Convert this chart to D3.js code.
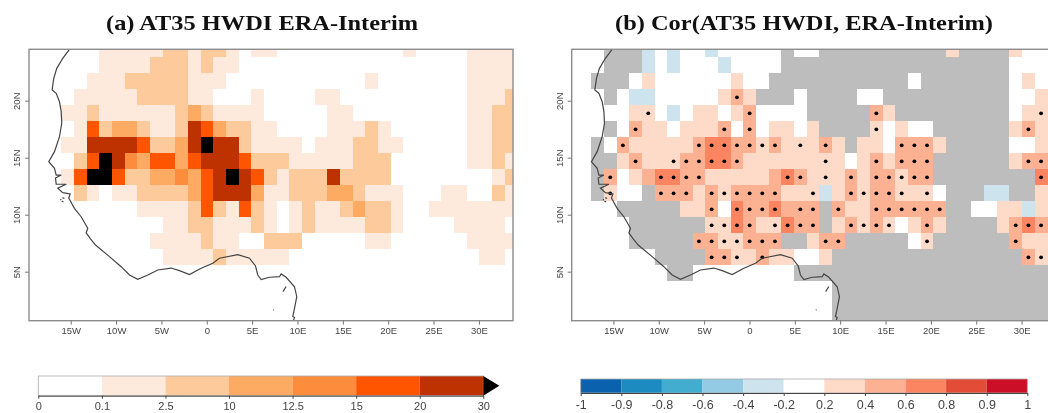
<!DOCTYPE html>
<html>
<head>
<meta charset="utf-8">
<title>AT35 HWDI</title>
<script src="https://cdn.jsdelivr.net/npm/d3@7"></script>
<style>
    html, body { margin: 0; padding: 0; background: white; overflow: hidden; }
    svg { display: block; filter: blur(0.45px); }
</style>
</head>
<body>
<div id="chart"></div>
<script>
// Tick labels of the two maps
const lonTicks = [-15, -10, -5, 0, 5, 10, 15, 20, 25, 30];
const latTicks = [5, 10, 15, 20];

// Panel (a): one digit per grid cell, index into hwdiValues
const hwdiValues = [0, 1, 5, 11, 14, 18, 25, 35];
const hwdiRows = [
    "000000111112212210110000000000100001111",
    "000000111122212110000000000000000001111",
    "000001112222211100000000000100000001111",
    "000011111222211000100001100000000001112",
    "000112111111232111100000110000000001122",
    "000015233211265322110000111210000001122",
    "000116666522367662111101112211000001122",
    "000025764355356665222111112220000001121",
    "000157752233435676521222622220000000012",
    "000021011222235666311222332111000110021",
    "000000000111125215210121123221001111111",
    "000000000001122111210121111221000011110",
    "000000000011112110022200000110000001111",
    "000000000001111211111000000000000000110"
];

// Panel (b): g = no data, w = near zero, b = weak negative, 1/2/3 = positive classes
const corValues = { w: 0, b: -0.3, 1: 0.3, 2: 0.5, 3: 0.7 };
const corRows = [
    "wwwgggbwbwwbwwwwwgwwgggggggggg1gggg1www",
    "wwwgggbwbwwwbwwwwggggggggggggggggggwwww",
    "wwgggw1wwwwww1wwgggggggggggwgggggggw1ww",
    "wwwgwbbwwwww121gggwggggwwggggggggggww11",
    "wwwww11wbw11w12wwwwggggg21gggggggggw111",
    "wwwgw211w1112w2w11w1gggg1w1wwgggggg1211",
    "wwgw211111233221211121g11w2221gggggww11",
    "wwgg121112233211111111w121222gggggg1222",
    "wwg2w123322111112321112122122gggggggg33",
    "wwg1wwg2221212222111b12122111wgggbbgg11",
    "wwwwggggg112w3223222g211222222ggww11b11",
    "wwwwwgggggg113211322g12121w121gggg12322",
    "wwwwwggggg2211222gg122gggggw1gggggg2111",
    "wwwwwwwgggg2211211ww1ggggggggggggggg211",
    "wwwwwwwwggwwwwwwwwggggggggggggggggggggg",
    "wwwwwwwwwwwwwwwwwwwwwgggggggggggggggggg",
    "wwwwwwwwwwwwwwwwwwwwwgggggggggggggggggg",
    "wwwwwwwwwwwwwwwwwwwwwgggggggggggggggggg"
];

// Columns of the significant cells, per row
const sigCols = [
    [], [], [],
    [13],
    [6, 14, 24, 37],
    [5, 12, 14, 24, 36],
    [4, 10, 11, 12, 13, 14, 15, 16, 18, 20, 26, 27, 28],
    [5, 8, 9, 10, 11, 12, 13, 20, 24, 26, 27, 28, 36, 37],
    [3, 7, 8, 9, 10, 17, 18, 20, 22, 24, 25, 26, 27, 28, 37],
    [3, 7, 8, 9, 11, 12, 13, 14, 15, 16, 19, 22, 23, 24, 25, 26, 28],
    [11, 13, 14, 15, 16, 18, 19, 21, 24, 25, 26, 27, 28, 29],
    [11, 12, 13, 14, 16, 17, 18, 19, 22, 23, 24, 25, 28, 35, 36, 37],
    [10, 11, 12, 13, 14, 15, 16, 20, 21, 28, 35],
    [11, 12, 13, 15, 36, 37]
];

// Coastline as [lon, lat]
const coastLine = [
    [-15.14, 24.51], [-15.88, 23.72], [-16.54, 22.84], [-16.87, 21.96], [-17.05, 20.94], [-16.6, 20.65],
    [-16.24, 19.91], [-16.05, 19.04], [-15.99, 18.02], [-16.24, 16.84], [-16.79, 15.53], [-17.42, 14.65],
    [-16.79, 14.07], [-16.6, 13.48], [-16.05, 13.48], [-16.68, 13.22], [-16.6, 12.67], [-15.5, 12.67],
    [-16.43, 12.32], [-15.88, 11.93], [-15.06, 11.82], [-15.22, 11.47], [-14.59, 10.56], [-13.85, 9.82],
    [-13.12, 8.81], [-13.3, 8.4], [-12.86, 7.93], [-12.27, 7.34], [-10.73, 6.32], [-9.44, 5.44],
    [-8.52, 4.71], [-7.61, 4.33], [-6.5, 4.71], [-5.4, 5.15], [-3.93, 5.32], [-3.01, 5.09],
    [-1.91, 4.74], [-0.62, 5.3], [0.66, 5.74], [1.4, 6.18], [3.42, 6.49], [4.71, 6.18],
    [5.37, 5.5], [5.62, 4.71], [6, 4.3], [6.91, 4.51], [8.02, 4.56], [8.2, 4.8],
    [8.75, 4.51], [9.67, 3.68], [9.92, 2.81], [9.67, 1.79], [9.48, 1.05], [9.67, 1], [9.56, 0.7]
];
const islands = [
    [[8.4, 3.25], [8.75, 3.7]],
    [[7.35, 1.62], [7.38, 1.68]],
    [[-16.0, 11.2], [-15.8, 11.12]],
    [[-15.9, 11.5], [-15.7, 11.42]],
    [[-16.15, 11.35], [-16.05, 11.3]]
];

// Colour bars
const hwdiLabels = ["0", "0.1", "2.5", "10", "12.5", "15", "20", "30"];
const hwdiBreaks = [0.1, 2.5, 10, 12.5, 15, 20, 30];
const hwdiColors = ["#ffffff", "#feeadc", "#fdcb9b", "#fdaa63", "#fd8d3c", "#ff5500", "#bd3200", "#000000"];
const corLabels = ["-1", "-0.9", "-0.8", "-0.6", "-0.4", "-0.2", "0.2", "0.4", "0.6", "0.8", "0.9", "1"];
const corBreaks = [-0.9, -0.8, -0.6, -0.4, -0.2, 0.2, 0.4, 0.6, 0.8, 0.9];
const corColors = ["#0a62ae", "#1b8bc0", "#42adcf", "#92cbe3", "#cde4ef", "#ffffff", "#fedbc9", "#fdb193", "#fb8461", "#e34c37", "#ca0f26"];

const width = 1048;
const height = 413;
const lonDomain = [-19.6, 33.76];
const latDomain = [0.7, 24.51];
const lonStart = -20.24;
const lonStep = 1.397;
const latStart = 25.21;
const latStep = 1.404;
const greyLand = "#bdbdbd";
const textColor = "#444";

const svg = d3.select('#chart').append('svg')
    .attr('width', width)
    .attr('height', height);

const hwdiColor = d3.scaleThreshold().domain(hwdiBreaks).range(hwdiColors);
const corColor = d3.scaleThreshold().domain(corBreaks).range(corColors);

function lonLabel(d) {
    return d === 0 ? "0" : Math.abs(d) + (d < 0 ? "W" : "E");
}

// Draws one map panel; rows are turned into cells by the cellFill callback
function drawMap(id, left, rows, cellFill, dots) {
    const x = d3.scaleLinear().domain(lonDomain).range([left, left + 484]);
    const y = d3.scaleLinear().domain(latDomain).range([320.7, 49.3]);

    svg.append('clipPath').attr('id', id)
        .append('rect')
        .attr('x', left).attr('y', 49.3)
        .attr('width', 484).attr('height', 271.4);

    const g = svg.append('g').attr('clip-path', 'url(#' + id + ')');

    const cells = [];
    rows.forEach((row, r) => {
        row.split('').forEach((c, i) => cells.push({ r: r, i: i, c: c }));
    });

    g.selectAll('rect.cell')
        .data(cells)
        .enter().append('rect')
        .attr('class', 'cell')
        .attr('x', d => x(lonStart + d.i * lonStep))
        .attr('y', d => y(latStart - d.r * latStep))
        .attr('width', d => x(lonStart + (d.i + 1) * lonStep) - x(lonStart + d.i * lonStep))
        .attr('height', d => y(latStart - (d.r + 1) * latStep) - y(latStart - d.r * latStep))
        .attr('fill', d => cellFill(d.c))
        .attr('shape-rendering', 'crispEdges');

    // Significance dots
    const dotData = [];
    dots.forEach((cols, r) => cols.forEach(i => dotData.push({ r: r, i: i })));
    g.selectAll('circle')
        .data(dotData)
        .enter().append('circle')
        .attr('cx', d => x(lonStart + (d.i + 0.5) * lonStep))
        .attr('cy', d => y(latStart - (d.r + 0.5) * latStep))
        .attr('r', 1.9)
        .attr('fill', 'black');

    // Coast
    const line = d3.line().x(d => x(d[0])).y(d => y(d[1]));
    [coastLine].concat(islands).forEach(part => {
        g.append('path')
            .attr('d', line(part))
            .attr('fill', 'none')
            .attr('stroke', '#444')
            .attr('stroke-width', 1.2);
    });

    // Frame
    svg.append('rect')
        .attr('x', left).attr('y', 49.3)
        .attr('width', 484).attr('height', 271.4)
        .attr('fill', 'none')
        .attr('stroke', '#8c8c8c')
        .attr('stroke-width', 1.4);

    // Axes
    const xAxis = svg.append('g')
        .attr('transform', 'translate(0,320.7)')
        .call(d3.axisBottom(x).tickValues(lonTicks).tickFormat(lonLabel).tickSize(4).tickSizeOuter(0).tickPadding(3));
    const yAxis = svg.append('g')
        .attr('transform', 'translate(' + left + ',0)')
        .call(d3.axisLeft(y).tickValues(latTicks).tickFormat(d => d + "N").tickSize(4).tickSizeOuter(0));
    yAxis.selectAll('text')
        .attr('transform', 'rotate(-90)')
        .attr('x', 0)
        .attr('y', -12)
        .attr('dy', '0.32em')
        .attr('text-anchor', 'middle');
    [xAxis, yAxis].forEach(a => {
        a.select('.domain').remove();
        a.selectAll('line').attr('stroke', '#777');
        a.selectAll('text')
            .attr('fill', textColor)
            .attr('font-family', 'Liberation Sans')
            .attr('font-size', 9.5);
    });
}

// Draws one colour bar with equally spaced boxes
function drawBar(labels, colors, x0, x1, top, bottom, fontSize) {
    const x = d3.scalePoint().domain(labels).range([x0, x1]);

    svg.append('g').selectAll('rect')
        .data(labels.slice(0, -1))
        .enter().append('rect')
        .attr('x', d => x(d))
        .attr('y', top)
        .attr('width', x.step())
        .attr('height', bottom - top)
        .attr('fill', (d, i) => colors[i]);

    svg.append('rect')
        .attr('x', x0).attr('y', top)
        .attr('width', x1 - x0).attr('height', bottom - top)
        .attr('fill', 'none')
        .attr('stroke', '#aaa')
        .attr('stroke-width', 0.8);

    const axis = svg.append('g')
        .attr('transform', 'translate(0,' + bottom + ')')
        .call(d3.axisBottom(x).tickSize(3).tickSizeOuter(0).tickPadding(4));
    axis.select('.domain').attr('stroke', '#444');
    axis.selectAll('line').attr('stroke', '#444');
    axis.selectAll('text')
        .attr('fill', textColor)
        .attr('font-family', 'Liberation Sans')
        .attr('font-size', fontSize);
}

// Panel (a)
drawMap('clipA', 29, hwdiRows, c => hwdiColor(hwdiValues[+c]), []);
// Panel (b)
drawMap('clipB', 571.7, corRows, c => c === 'g' ? greyLand : corColor(corValues[c]), sigCols);

// Titles: the original is stretched sideways, so the width is forced
svg.selectAll('text.title')
    .data([
        { text: "(a) AT35 HWDI ERA-Interim", x: 106, w: 312 },
        { text: "(b) Cor(AT35 HWDI, ERA-Interim)", x: 615, w: 378 }
    ])
    .enter().append('text')
    .attr('class', 'title')
    .attr('x', d => d.x)
    .attr('y', 29.5)
    .attr('textLength', d => d.w)
    .attr('lengthAdjust', 'spacingAndGlyphs')
    .attr('font-family', 'Liberation Serif')
    .attr('font-weight', 'bold')
    .attr('font-size', 21)
    .attr('fill', '#111')
    .text(d => d.text);

// Colour bars
drawBar(hwdiLabels, hwdiColors, 38.3, 483.3, 376, 395.7, 11);
svg.append('path')
    .attr('d', d3.line()([[483.3, 376], [499.3, 385.8], [483.3, 395.7]]) + 'Z')
    .attr('fill', hwdiColors[7]);
drawBar(corLabels, corColors, 580.7, 1027.3, 379, 393, 12.5);
</script>
</body>
</html>
